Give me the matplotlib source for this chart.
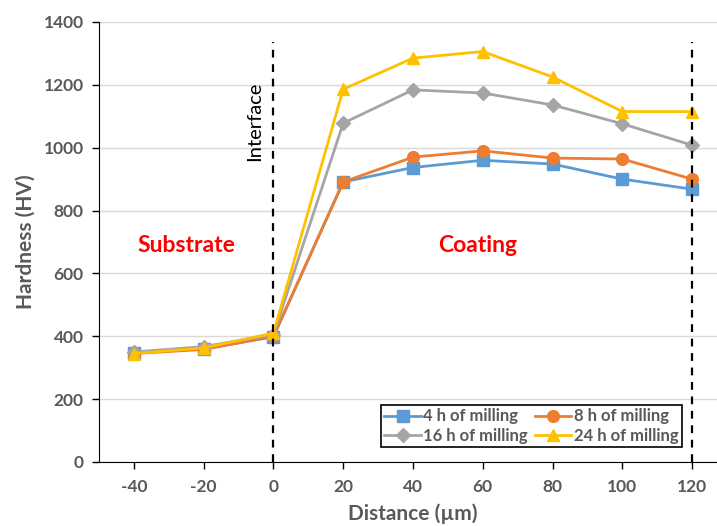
import matplotlib.pyplot as plt

# distance from interface (um)
distance = [-40, -20, 0, 20, 40, 60, 80, 100, 120]

# hardness (HV) for each milling time
hv_4h = [348, 360, 398, 891, 937, 960, 948, 900, 868]
hv_8h = [345, 358, 400, 891, 970, 990, 967, 964, 900]
hv_16h = [350, 367, 405, 1078, 1184, 1174, 1136, 1076, 1008]
hv_24h = [345, 363, 410, 1186, 1285, 1306, 1225, 1115, 1115]

labels = ["4 h of milling", "8 h of milling", "16 h of milling", "24 h of milling"]
x_ticks = [-40, -20, 0, 20, 40, 60, 80, 100, 120]
y_ticks = [0, 200, 400, 600, 800, 1000, 1200, 1400]

gray_txt = "#595959"
plt.rcParams['font.family'] = ['Lato', 'DejaVu Sans']
plt.rcParams['axes.unicode_minus'] = False

fig = plt.figure(figsize=(7.17, 5.26), dpi=100)
ax = fig.add_axes([0.138, 0.1217, 0.876, 0.8365])

l1, = ax.plot(distance, hv_4h, color="#5B9BD5", marker="s", ms=8, lw=2, label=labels[0], zorder=3)
l2, = ax.plot(distance, hv_8h, color="#ED7D31", marker="o", ms=8.5, lw=2, label=labels[1], zorder=3)
l3, = ax.plot(distance, hv_16h, color="#A5A5A5", marker="D", ms=7.5, lw=2, label=labels[2], zorder=3)
l4, = ax.plot(distance, hv_24h, color="#FFC000", marker="^", ms=9, lw=2, label=labels[3], zorder=4)

# interface and coating surface markers
ax.vlines([0, 120], 0, 1335, colors="black", linestyles=(0, (3.5, 3)), lw=1.6, zorder=5)

ax.set_xlim(-50, 130)
ax.set_ylim(0, 1400)
ax.set_xticks(x_ticks)
ax.set_yticks(y_ticks)
ax.yaxis.grid(True, color="#D9D9D9", lw=1)
ax.set_axisbelow(True)
ax.spines["top"].set_visible(False)
ax.spines["right"].set_visible(False)
ax.spines["left"].set_color("black")
ax.spines["bottom"].set_color("black")
ax.tick_params(axis="both", length=5, width=1, color="black", labelsize=12.5,
               labelcolor=gray_txt)
ax.tick_params(axis="x", pad=7)
ax.tick_params(axis="y", pad=6)
for lab in ax.get_xticklabels() + ax.get_yticklabels():
    lab.set_fontweight("bold")

ax.set_xlabel("Distance (µm)", fontsize=15, fontweight="bold", color=gray_txt, labelpad=6.5)
ax.set_ylabel("Hardness (HV)", fontsize=15, fontweight="bold", color=gray_txt, labelpad=6)

ax.text(-25, 690, "Substrate", color="red", fontsize=16.5, fontweight="bold",
        ha="center", va="center")
ax.text(58.5, 690, "Coating", color="red", fontsize=16.5, fontweight="bold",
        ha="center", va="center")
ax.text(-5.4, 1085, "Interface", rotation=90, fontsize=14.5, color="black",
        ha="center", va="center")

# row-wise order like the original: 4h, 8h / 16h, 24h
leg = ax.legend([l1, l3, l2, l4], [labels[0], labels[2], labels[1], labels[3]],
                loc="lower right", bbox_to_anchor=(0.928, 0.034), ncol=2,
                frameon=True, fancybox=False, edgecolor="black", framealpha=1,
                prop={"weight": "bold", "size": 12}, handlelength=2.2,
                handletextpad=0.15, columnspacing=0.4, borderpad=0.2,
                labelspacing=0.2, borderaxespad=0)
leg.get_frame().set_linewidth(1.2)
for t in leg.get_texts():
    t.set_color(gray_txt)

fig.savefig("out.png", dpi=100)
